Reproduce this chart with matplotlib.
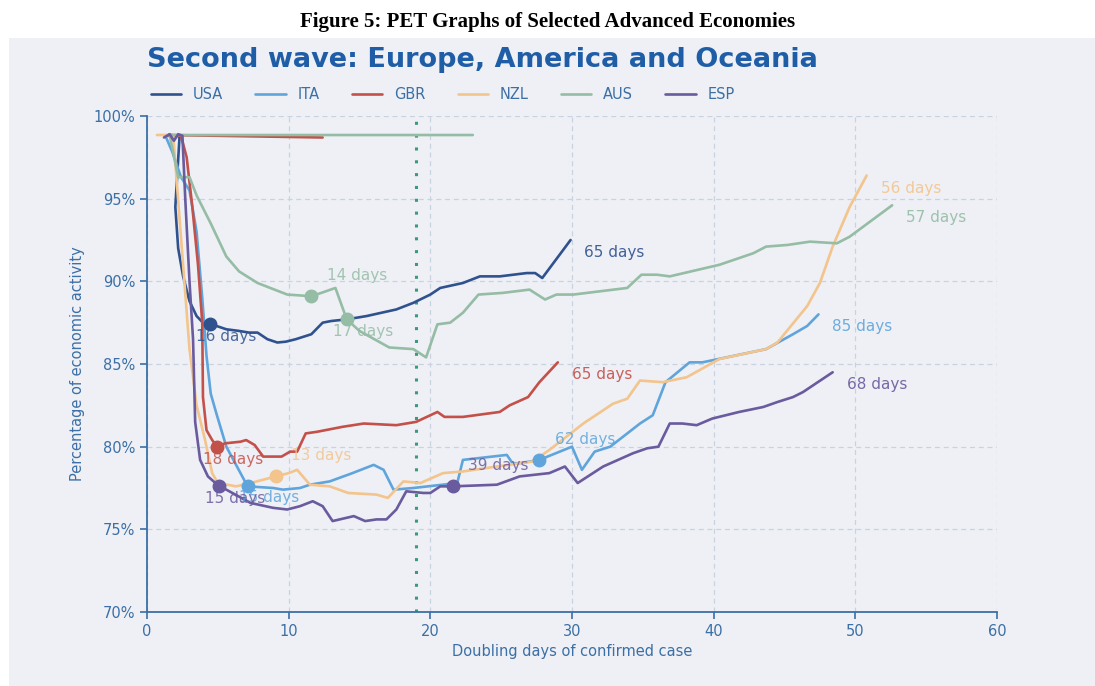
import matplotlib
matplotlib.use("Agg")
import matplotlib.pyplot as plt
from matplotlib.patches import Rectangle

# ---- data -------------------------------------------------------------
countries = ["USA", "ITA", "GBR", "NZL", "AUS", "ESP"]

usa_x = [1.5, 2.3, 2.0, 2.2, 2.55, 3.0, 3.5, 3.95, 4.45, 5.6, 6.5, 7.2, 7.8, 8.5, 9.2, 9.8,
         10.5, 11.6, 12.4, 13.0, 14.1, 15.5, 17.6, 18.8, 20.0, 20.7, 22.3, 23.5, 24.9,
         26.8, 27.4, 27.9, 29.9]
usa_y = [98.8, 98.8, 94.5, 92.0, 90.3, 88.8, 87.9, 87.5, 87.43, 87.1, 87.0, 86.9, 86.9,
         86.5, 86.3, 86.35, 86.5, 86.8, 87.5, 87.6, 87.7, 87.9, 88.3, 88.7, 89.2, 89.6,
         89.9, 90.3, 90.3, 90.5, 90.5, 90.2, 92.5]

ita_x = [1.3, 1.8, 2.4, 3.0, 3.5, 3.9, 4.2, 4.5, 4.9, 5.6, 6.6, 7.1, 8.9, 9.6, 10.8, 11.5,
         12.9, 14.5, 16.0, 16.7, 17.4, 18.8, 21.9, 22.3, 25.4, 25.8, 26.3, 27.7, 30.0,
         30.7, 31.6, 32.7, 34.8, 35.7, 36.6, 38.3, 39.2, 40.9, 43.7, 45.6, 46.6, 47.4]
ita_y = [98.8, 97.8, 96.3, 95.5, 93.0, 89.0, 85.5, 83.2, 82.0, 80.0, 78.4, 77.6, 77.5,
         77.4, 77.5, 77.7, 77.9, 78.4, 78.9, 78.6, 77.4, 77.5, 77.8, 79.2, 79.5, 79.0,
         79.0, 79.2, 80.0, 78.6, 79.7, 80.0, 81.4, 81.9, 83.9, 85.1, 85.1, 85.4, 85.9,
         86.8, 87.3, 88.0]

gbr_x = [12.4, 1.5, 2.4, 2.8, 3.2, 3.6, 3.9, 3.95, 4.2, 4.6, 4.95, 5.5, 6.6, 7.0, 7.6,
         8.2, 9.5, 10.1, 10.6, 11.2, 12.0, 13.8, 15.3, 17.6, 19.0, 20.5, 21.0, 22.3, 24.9,
         25.6, 26.9, 27.7, 29.0]
gbr_y = [98.7, 98.85, 98.8, 97.5, 94.5, 91.0, 87.5, 83.0, 81.0, 80.4, 80.0, 80.2, 80.3,
         80.4, 80.1, 79.4, 79.4, 79.7, 79.7, 80.8, 80.9, 81.2, 81.4, 81.3, 81.5, 82.1,
         81.8, 81.8, 82.1, 82.5, 83.0, 83.9, 85.1]

nzl_x = [0.7, 1.85, 2.2, 3.0, 3.5, 4.1, 4.6, 5.0, 6.3, 7.3, 9.1, 10.0, 10.6, 11.5, 12.9,
         14.2, 16.2, 17.0, 18.1, 19.3, 20.9, 22.3, 24.7, 27.2, 28.4, 30.8, 32.9, 33.9,
         34.8, 36.4, 38.1, 40.4, 43.7, 44.5, 46.6, 47.5, 48.4, 49.6, 50.8]
nzl_y = [98.85, 98.85, 94.9, 85.9, 82.5, 80.4, 78.4, 77.8, 77.6, 77.8, 78.2, 78.4, 78.6,
         77.7, 77.6, 77.2, 77.1, 76.9, 77.9, 77.8, 78.4, 78.5, 78.8, 79.1, 79.8, 81.4,
         82.6, 82.9, 84.0, 83.9, 84.2, 85.3, 85.9, 86.3, 88.5, 89.9, 92.1, 94.5, 96.4]

aus_x = [23.0, 1.6, 2.2, 3.0, 3.5, 4.5, 5.6, 6.5, 7.8, 9.9, 11.6, 12.3, 13.3, 14.1, 15.0,
         17.1, 18.8, 19.7, 20.5, 21.4, 22.3, 23.4, 25.1, 27.0, 28.1, 28.9, 30.1, 33.9,
         34.9, 36.0, 36.9, 40.4, 42.8, 43.7, 45.2, 46.8, 48.7, 49.6, 52.6]
aus_y = [98.85, 98.85, 96.3, 96.3, 95.2, 93.5, 91.5, 90.6, 89.9, 89.2, 89.1, 89.3, 89.6,
         87.7, 87.0, 86.0, 85.9, 85.4, 87.4, 87.5, 88.1, 89.2, 89.3, 89.5, 88.9, 89.2,
         89.2, 89.6, 90.4, 90.4, 90.3, 91.0, 91.7, 92.1, 92.2, 92.4, 92.3, 92.7, 94.6]

esp_x = [1.2, 1.6, 1.9, 2.2, 2.5, 2.7, 3.0, 3.25, 3.4, 3.75, 4.3, 5.1, 5.6, 7.3, 8.9, 9.9,
         10.8, 11.7, 12.4, 13.1, 14.1, 14.6, 15.4, 16.2, 16.9, 17.6, 18.3, 19.5, 20.0,
         20.7, 21.6, 24.7, 26.3, 28.4, 29.5, 30.4, 32.2, 34.3, 35.3, 36.1, 36.9, 37.8,
         38.8, 39.9, 41.8, 43.5, 44.5, 45.6, 46.3, 48.4]
esp_y = [98.7, 98.9, 98.5, 98.9, 98.8, 95.0, 90.0, 86.5, 81.5, 79.2, 78.2, 77.6, 77.4,
         76.6, 76.3, 76.2, 76.4, 76.7, 76.4, 75.5, 75.7, 75.8, 75.5, 75.6, 75.6, 76.2,
         77.3, 77.2, 77.2, 77.6, 77.6, 77.7, 78.2, 78.4, 78.8, 77.8, 78.8, 79.6, 79.9,
         80.0, 81.4, 81.4, 81.3, 81.7, 82.1, 82.4, 82.7, 83.0, 83.3, 84.5]

# indices of highlighted points and their day labels
usa_marks, usa_mark_labels = [8], ["16 days"]
ita_marks, ita_mark_labels = [11, 27], ["15 days", "62 days"]
gbr_marks, gbr_mark_labels = [10], ["18 days"]
nzl_marks, nzl_mark_labels = [10], ["13 days"]
aus_marks, aus_mark_labels = [10, 13], ["14 days", "17 days"]
esp_marks, esp_mark_labels = [11, 30], ["15 days", "39 days"]

end_labels = ["65 days", "85 days", "65 days", "56 days", "57 days", "68 days"]

policy_line_day = 19.0

# ---- styling ------------------------------------------------------------
colors = {"USA": "#2f528f", "ITA": "#5fa5dc", "GBR": "#c4504a",
          "NZL": "#f3c48c", "AUS": "#95bca4", "ESP": "#6a5a9e"}
axis_blue = "#3b6fa6"
panel_bg = "#eef0f5"
grid_col = "#c9d2df"

series = {
    "USA": (usa_x, usa_y, usa_marks, usa_mark_labels),
    "ITA": (ita_x, ita_y, ita_marks, ita_mark_labels),
    "GBR": (gbr_x, gbr_y, gbr_marks, gbr_mark_labels),
    "NZL": (nzl_x, nzl_y, nzl_marks, nzl_mark_labels),
    "AUS": (aus_x, aus_y, aus_marks, aus_mark_labels),
    "ESP": (esp_x, esp_y, esp_marks, esp_mark_labels),
}

# label offsets (points) from a highlighted point: below-left or above-right
below = (-10, -9)
above = (11, 15)
mark_offsets = {
    "USA": [below], "ITA": [(-6, -8), above], "GBR": [below],
    "NZL": [above], "AUS": [above, below], "ESP": [below, above],
}
end_offset = (10, -9)

plt.rcParams["font.family"] = ["DejaVu Sans"]

fig = plt.figure(figsize=(10.95, 6.86), dpi=100)
fig.patch.set_facecolor("white")
fig.add_artist(Rectangle((9 / 1095, 0), 1, 1 - 38 / 686, transform=fig.transFigure,
                         facecolor=panel_bg, edgecolor="none", zorder=-10))

ax = fig.add_axes([147 / 1095, 1 - 612 / 686, 850 / 1095, 496 / 686])
ax.set_facecolor(panel_bg)

ax.set_xlim(0, 60)
ax.set_ylim(70, 100)
ax.set_xticks(range(0, 61, 10))
ax.set_yticks(range(70, 101, 5))
ax.set_yticklabels([f"{v}%" for v in range(70, 101, 5)])
ax.grid(True, color=grid_col, linestyle=(0, (4, 3)), linewidth=0.9)
ax.set_axisbelow(True)

for side in ("top", "right"):
    ax.spines[side].set_visible(False)
for side in ("left", "bottom"):
    ax.spines[side].set_color(axis_blue)
    ax.spines[side].set_linewidth(1.3)
ax.tick_params(colors=axis_blue, labelcolor=axis_blue, labelsize=10.5, length=5, width=1.2)

ax.axvline(policy_line_day, color="#3a9a7e", linestyle=(0, (1, 3.2)), linewidth=2.2, zorder=1)

for name in countries:
    xs, ys, marks, mlabels = series[name]
    c = colors[name]
    ax.plot(xs, ys, color=c, linewidth=1.9, label=name, zorder=3,
            solid_joinstyle="round", solid_capstyle="round")
    for idx, txt, off in zip(marks, mlabels, mark_offsets[name]):
        ax.plot(xs[idx], ys[idx], "o", color=c, markersize=9, zorder=4)
        ax.annotate(txt, (xs[idx], ys[idx]), xytext=off, textcoords="offset points",
                    ha="left", va="center", fontsize=11, color=c, alpha=0.85, zorder=5)

for name, txt in zip(countries, end_labels):
    xs, ys = series[name][0], series[name][1]
    ax.annotate(txt, (xs[-1], ys[-1]), xytext=end_offset, textcoords="offset points",
                ha="left", va="center", fontsize=11, color=colors[name], alpha=0.9)

ax.set_xlabel("Doubling days of confirmed case", color=axis_blue, fontsize=10.5, labelpad=4)
ax.set_ylabel("Percentage of economic activity", color=axis_blue, fontsize=10.5, labelpad=6)

leg = ax.legend(ncol=6, loc="lower left", bbox_to_anchor=(-0.006, 1.01), frameon=False,
                fontsize=10.5, handlelength=2.1, handletextpad=0.8, columnspacing=2.2,
                borderaxespad=0.2)
for t, name in zip(leg.get_texts(), countries):
    t.set_color(axis_blue)

fig.text(147 / 1095, 1 - 60 / 686, "Second wave: Europe, America and Oceania",
         fontsize=19.5, fontweight="bold", color="#1f5ea6", ha="left", va="center")
fig.text(548 / 1095, 1 - 22 / 686, "Figure 5: PET Graphs of Selected Advanced Economies",
         fontsize=15, fontweight="bold", family="Liberation Serif", color="black",
         ha="center", va="center")

fig.savefig("out.png", dpi=100, facecolor=fig.get_facecolor())
